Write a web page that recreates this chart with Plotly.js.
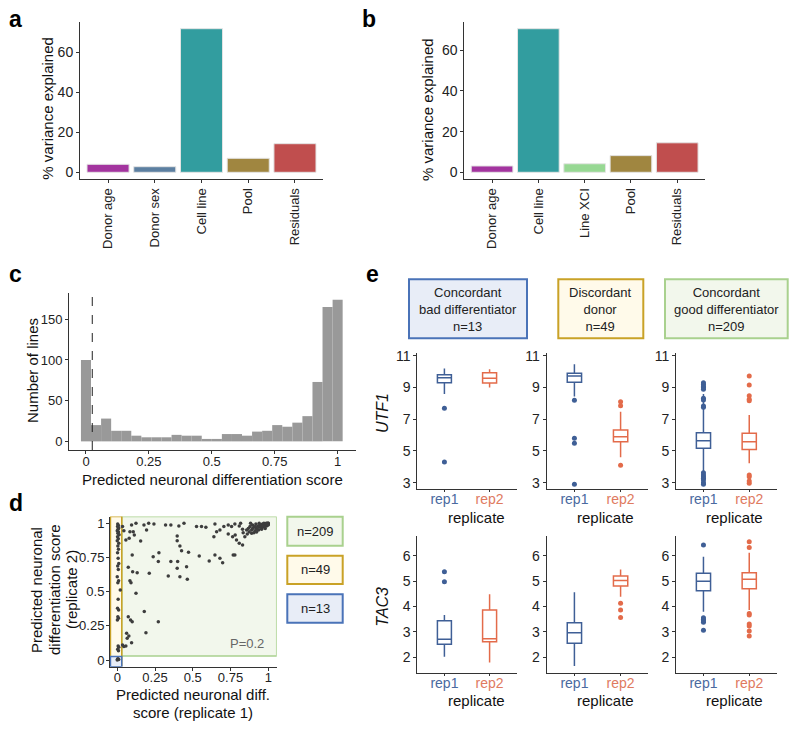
<!DOCTYPE html>
<html>
<head>
<meta charset="utf-8">
<script src="https://cdn.plot.ly/plotly-3.0.1.min.js"></script>
<style>body{margin:0;background:#fff} #fig{width:800px;height:730px}</style>
</head>
<body>
<div id="fig"></div>
<script>
// a / b: variance partition
const aFactors = ['Donor age', 'Donor sex', 'Cell line', 'Pool', 'Residuals'];
const aVariance = [4.0, 2.8, 71.8, 7.0, 14.3];
const bFactors = ['Donor age', 'Cell line', 'Line XCI', 'Pool', 'Residuals'];
const bVariance = [3.1, 70.6, 4.2, 8.2, 14.5];
const factorColor = {
  'Donor age': '#a3349f', 'Donor sex': '#5c7fa1', 'Cell line': '#329d9f',
  'Line XCI': '#97d893', 'Pool': '#a08640', 'Residuals': '#c04e4e'
};

// c: histogram of predicted scores
const histBins = [0, 0.04, 0.08, 0.12, 0.16, 0.2, 0.24, 0.28, 0.32, 0.36, 0.4, 0.44, 0.48,
  0.52, 0.56, 0.6, 0.64, 0.68, 0.72, 0.76, 0.8, 0.84, 0.88, 0.92, 0.96, 1.0];
const histCounts = [100, 20, 28, 13, 13, 7, 5, 5, 5, 8, 7, 7, 3, 3, 9, 9, 7, 12, 13, 20, 18, 23, 31, 73, 165, 174];
const scoreCutoff = 0.025;

// d: replicate 1 vs replicate 2
const dRep1 = [
  0.003, 0.008, 0.002, 0.010, 0.005, 0.000, 0.008, 0.004, 0.012, 0.002, 0.007, 0.000, 0.010, 0.004, 0.008, 0.002, 0.006,
  0.010, 0.003, 0.007, 0.000, 0.009, 0.004, 0.020, 0.006, 0.002, 0.009, 0.004, 0.008, 0.001, 0.006, 0.010, 0.003, 0.008,
  0.000, 0.005, 0.010, 0.002,
  0.035, 0.044, 0.057, 0.079, 0.084, 0.095, 0.106, 0.113, 0.124, 0.155, 0.177, 0.194, 0.208, 0.243, 0.320, 0.355,
  0.408, 0.442, 0.397, 0.397, 0.415, 0.426, 0.472, 0.525, 0.558, 0.587, 0.647, 0.658, 0.640, 0.680, 0.706, 0.735,
  0.757, 0.779, 0.735, 0.764, 0.781, 0.790, 0.808, 0.830, 0.768, 0.779, 0.808, 0.817, 0.830, 0.834, 0.845, 0.857,
  0.868, 0.879, 0.890, 0.896, 0.905, 0.912, 0.918, 0.923, 0.932, 0.936, 0.940, 0.945, 0.951, 0.956, 0.962, 0.967,
  0.971, 0.976, 0.980, 0.985, 0.989, 0.993, 0.998, 1.000, 1.000, 1.000, 0.890, 0.905, 0.923, 0.874, 0.861, 0.883,
  0.914, 0.958, 0.980, 0.945, 0.927, 0.896, 0.967, 0.989, 1.000, 0.987, 0.974, 0.962, 0.940,
  0.238, 0.272, 0.276, 0.355, 0.400, 0.397, 0.459, 0.338, 0.415, 0.464, 0.212, 0.132, 0.099, 0.073, 0.102, 0.543,
  0.609, 0.647, 0.680, 0.698,
  0.084, 0.091, 0.124, 0.073, 0.088, 0.099, 0.179, 0.272, 0.190, 0.062, 0.077, 0.066, 0.095, 0.057, 0.044, 0.035
];
const dRep2 = [
  0.995, 0.985, 0.976, 0.966, 0.956, 0.946, 0.937, 0.927, 0.917, 0.902, 0.888, 0.873, 0.854, 0.834, 0.810, 0.785, 0.744,
  0.707, 0.688, 0.663, 0.610, 0.580, 0.566, 0.512, 0.444, 0.378, 0.366, 0.317, 0.305, 0.293, 0.102, 0.093, 0.078, 0.068,
  0.000, 0.010, 0.003, 0.006,
  0.976, 0.946, 0.878, 0.890, 0.939, 0.988, 0.939, 0.915, 1.000, 0.871, 0.988, 0.951, 1.000, 0.995, 0.988, 0.988,
  0.980, 1.000, 0.907, 0.873, 0.834, 0.800, 0.788, 0.976, 0.976, 0.971, 0.995, 0.939, 0.902, 0.951, 0.976, 0.988,
  0.976, 0.995, 0.922, 0.902, 0.915, 0.878, 0.854, 0.841, 0.768, 0.768, 0.980, 1.000, 0.956, 0.932, 0.902, 0.951,
  0.963, 0.976, 0.951, 0.988, 0.971, 0.946, 0.995, 0.963, 0.980, 0.951, 1.000, 0.971, 0.988, 0.956, 0.995, 0.976,
  1.000, 0.983, 0.963, 0.995, 0.980, 1.000, 0.988, 1.000, 0.995, 1.000, 0.927, 0.932, 0.937, 0.939, 0.922, 1.000,
  0.976, 0.971, 0.988, 0.988, 0.956, 0.963, 0.990, 0.993, 0.990, 1.000, 0.973, 0.980, 0.976,
  0.756, 0.720, 0.785, 0.720, 0.720, 0.671, 0.683, 0.615, 0.610, 0.590, 0.634, 0.639, 0.768, 0.678, 0.646, 0.761,
  0.724, 0.768, 0.744, 0.712,
  0.580, 0.566, 0.488, 0.317, 0.293, 0.280, 0.354, 0.280, 0.200, 0.195, 0.176, 0.159, 0.127, 0.102, 0.098, 0.110
];
const groupLabels = ['n=209', 'n=49', 'n=13'];

// e: expression per replicate, [lowerfence, q1, median, q3, upperfence]
const replicates = ['rep1', 'rep2'];
const utf1BadRep1 = [8.6, 9.31, 9.62, 9.8, 10.2];
const utf1BadRep1Out = [7.7, 4.3];
const utf1BadRep2 = [9.0, 9.29, 9.59, 9.94, 10.15];
const utf1BadRep2Out = [];
const utf1DiscRep1 = [8.43, 9.33, 9.73, 9.9, 10.47];
const utf1DiscRep1Out = [8.2, 5.8, 5.49, 2.9];
const utf1DiscRep2 = [4.6, 5.59, 5.9, 6.32, 7.48];
const utf1DiscRep2Out = [8.1, 7.86, 4.1];
const utf1GoodRep1 = [3.7, 5.17, 5.65, 6.15, 8.6];
const utf1GoodRep1Out = [9.31, 9.2, 9.06, 9.0, 8.9, 8.32, 8.22, 7.84, 7.76, 3.63, 3.49, 3.38, 3.28, 3.17, 3.0, 2.9];
const utf1GoodRep2 = [4.22, 5.1, 5.59, 6.12, 7.27];
const utf1GoodRep2Out = [9.73, 9.16, 8.49, 8.26, 8.17, 3.49, 3.38, 3.1, 2.97];
const tac3BadRep1 = [2.02, 2.51, 2.71, 3.44, 3.67];
const tac3BadRep1Out = [5.37, 4.98];
const tac3BadRep2 = [1.8, 2.61, 2.73, 3.86, 4.48];
const tac3BadRep2Out = [];
const tac3DiscRep1 = [1.66, 2.55, 2.97, 3.36, 4.56];
const tac3DiscRep1Out = [];
const tac3DiscRep2 = [4.39, 4.81, 5.03, 5.2, 5.46];
const tac3DiscRep2Out = [4.13, 3.86, 3.57];
const tac3GoodRep1 = [3.8, 4.62, 5.0, 5.31, 5.96];
const tac3GoodRep1Out = [6.43, 3.56, 3.5, 3.44, 3.38, 3.07];
const tac3GoodRep2 = [3.86, 4.7, 5.08, 5.33, 6.12];
const tac3GoodRep2Out = [6.55, 6.33, 3.73, 3.67, 3.31, 3.23, 3.04, 2.84];

const W = 800, H = 730;
const px = x => x / W;
const py = y => 1 - y / H;
const FONT = 'Liberation Sans, Arial, sans-serif';
const REP_COL = { rep1: '#3f5f96', rep2: '#e36b4a' };

function axis(extra) {
  return Object.assign({
    showline: true, linecolor: '#333', linewidth: 1,
    ticks: 'outside', ticklen: 3, tickcolor: '#333', tickwidth: 1,
    showgrid: false, zeroline: false, fixedrange: true,
    tickfont: { size: 13, color: '#222' }
  }, extra);
}

// every free text is placed by its centre, in pixels of the 800x730 picture
function note(x, y, text, size, extra) {
  return Object.assign({
    xref: 'paper', yref: 'paper', x: px(x), y: py(y), text,
    xanchor: 'center', yanchor: 'middle', showarrow: false,
    font: { size, color: '#111' }
  }, extra || {});
}

const traces = [];
const layout = {
  width: W, height: H, margin: { l: 0, r: 0, t: 0, b: 0 },
  paper_bgcolor: '#fff', plot_bgcolor: 'rgba(0,0,0,0)',
  font: { family: FONT, color: '#222' },
  showlegend: false, shapes: [], annotations: []
};

// a, b
traces.push({
  type: 'bar', x: aFactors, y: aVariance, xaxis: 'x', yaxis: 'y', width: 0.9,
  marker: { color: aFactors.map(f => factorColor[f]), line: { color: '#e4e4e4', width: 1 } }
});
traces.push({
  type: 'bar', x: bFactors, y: bVariance, xaxis: 'x2', yaxis: 'y2', width: 0.9,
  marker: { color: bFactors.map(f => factorColor[f]), line: { color: '#e4e4e4', width: 1 } }
});
layout.xaxis = axis({ domain: [px(80), px(323)], anchor: 'y', type: 'category', range: [-0.6, 4.6], tickangle: -90 });
layout.yaxis = axis({ domain: [py(179), py(22)], anchor: 'x', range: [-3.35, 75.15], tickvals: [0, 20, 40, 60], tickfont: { size: 14, color: '#222' } });
layout.xaxis2 = axis({ domain: [px(464.3), px(705)], anchor: 'y2', type: 'category', range: [-0.6, 4.6], tickangle: -90 });
layout.yaxis2 = axis({ domain: [py(179), py(22)], anchor: 'x2', range: [-3.3, 73.9], tickvals: [0, 20, 40, 60], tickfont: { size: 14, color: '#222' } });

// c
traces.push({
  type: 'bar', x: histBins, y: histCounts, xaxis: 'x3', yaxis: 'y3', width: 0.04,
  marker: { color: '#999999', line: { width: 0 } }
});
const fracTicks = [0, 0.25, 0.5, 0.75, 1];
const fracText = ['0', '0.25', '0.5', '0.75', '1'];
layout.xaxis3 = axis({ domain: [px(69), px(356)], anchor: 'y3', range: [-0.0675, 1.073], tickvals: fracTicks, ticktext: fracText, ticklabelstandoff: -4 });
layout.yaxis3 = axis({ domain: [py(450), py(293)], anchor: 'x3', range: [-10.6, 182.3], tickvals: [0, 50, 100, 150] });
layout.shapes.push({
  type: 'line', xref: 'x3', yref: 'y3', x0: scoreCutoff, x1: scoreCutoff, y0: -10.6, y1: 182.3,
  line: { color: '#222', width: 1, dash: 'dash' }
});

// d
layout.xaxis4 = axis({ domain: [px(110), px(276.7)], anchor: 'y4', range: [-0.048, 1.056], tickvals: fracTicks, ticktext: fracText, ticklabelstandoff: -4 });
layout.yaxis4 = axis({ domain: [py(666.7), py(516.5)], anchor: 'x4', range: [-0.049, 1.05], tickvals: fracTicks, ticktext: fracText, ticklabelstandoff: -1 });
const GREEN = { fill: '#f2f7ec', line: '#a9d18e' };
const GOLD = { fill: '#fffaea', line: '#c9a227' };
const BLUE = { fill: '#e8edf7', line: '#4a73b8' };
const rect = (xref, yref, x0, x1, y0, y1, c, w) => ({
  type: 'rect', xref, yref, x0, x1, y0, y1, layer: 'below',
  fillcolor: c.fill, line: { color: c.line, width: w }
});
layout.shapes.push(rect('x4', 'y4', 0.03, 1.056, 0.03, 1.05, GREEN, 1.5));
layout.shapes.push(rect('x4', 'y4', -0.045, 0.03, -0.04, 1.05, GOLD, 1.5));
layout.shapes.push(rect('x4', 'y4', -0.045, 0.03, -0.049, 0.025, BLUE, 1.5));
traces.push({
  type: 'scatter', mode: 'markers', x: dRep1, y: dRep2, xaxis: 'x4', yaxis: 'y4',
  marker: { size: 3.5, color: '#3d3d3d' }, cliponaxis: false
});
[[GREEN, 516.7, 545.7], [GOLD, 555.7, 584], [BLUE, 594.3, 622.7]].forEach((b, i) => {
  layout.shapes.push({
    type: 'rect', xref: 'paper', yref: 'paper', x0: px(287.3), x1: px(342.7), y0: py(b[2]), y1: py(b[1]),
    fillcolor: b[0].fill, line: { color: b[0].line, width: 2 }
  });
  layout.annotations.push(note(315, (b[1] + b[2]) / 2, groupLabels[i], 13, { font: { size: 13, color: '#222' } }));
});
layout.annotations.push(note(246.7, 643.3, 'P=0.2', 13, { font: { size: 13, color: '#666' } }));

// e
const boxSets = [
  ['x5', 'y5', utf1BadRep1, utf1BadRep1Out, utf1BadRep2, utf1BadRep2Out],
  ['x6', 'y6', utf1DiscRep1, utf1DiscRep1Out, utf1DiscRep2, utf1DiscRep2Out],
  ['x7', 'y7', utf1GoodRep1, utf1GoodRep1Out, utf1GoodRep2, utf1GoodRep2Out],
  ['x8', 'y8', tac3BadRep1, tac3BadRep1Out, tac3BadRep2, tac3BadRep2Out],
  ['x9', 'y9', tac3DiscRep1, tac3DiscRep1Out, tac3DiscRep2, tac3DiscRep2Out],
  ['x10', 'y10', tac3GoodRep1, tac3GoodRep1Out, tac3GoodRep2, tac3GoodRep2Out]
];
function addBox(xa, ya, rep, s, out) {
  const col = REP_COL[rep];
  traces.push({
    type: 'box', x: [rep], lowerfence: [s[0]], q1: [s[1]], median: [s[2]], q3: [s[3]], upperfence: [s[4]],
    xaxis: xa, yaxis: ya, width: 0.31, whiskerwidth: 0, boxpoints: false,
    line: { color: col, width: 1.5 }, fillcolor: '#ffffff', hoverinfo: 'skip'
  });
  if (out.length) {
    traces.push({
      type: 'scatter', mode: 'markers', x: out.map(() => rep), y: out, xaxis: xa, yaxis: ya,
      marker: { size: 5, color: col }, hoverinfo: 'skip'
    });
  }
}
boxSets.forEach(b => {
  addBox(b[0], b[1], 'rep1', b[2], b[3]);
  addBox(b[0], b[1], 'rep2', b[4], b[5]);
});
const colX = [[417.3, 516.7], [546.7, 648.3], [676, 776.7]];
const repText = ['<span style="color:#4a6aa0">rep1</span>', '<span style="color:#e07a5f">rep2</span>'];
colX.forEach((c, i) => {
  const n1 = 5 + i, n2 = 8 + i;
  const repAxis = anchor => axis({ domain: [px(c[0]), px(c[1])], anchor, type: 'category',
    categoryorder: 'array', categoryarray: replicates, range: [-0.6, 1.6], ticklen: 2,
    tickvals: replicates, ticktext: repText, tickfont: { size: 14 }, ticklabelstandoff: -5 });
  layout['xaxis' + n1] = repAxis('y' + n1);
  layout['yaxis' + n1] = axis({ domain: [py(489.3), py(353.3)], anchor: 'x' + n1, range: [2.584, 11.16],
    tickvals: [3, 5, 7, 9, 11], tickfont: { size: 14, color: '#222' } });
  layout['xaxis' + n2] = repAxis('y' + n2);
  layout['yaxis' + n2] = axis({ domain: [py(673.3), py(536)], anchor: 'x' + n2, range: [1.37, 6.78],
    tickvals: [2, 3, 4, 5, 6], tickfont: { size: 14, color: '#222' } });
});
const titleX = [476.7, 605.7, 734.3];
titleX.forEach(x => {
  [517, 700].forEach(y => layout.annotations.push(note(x, y, 'replicate', 15)));
});
const headers = [
  ['Concordant<br>bad differentiator<br>n=13', 409, 527, BLUE],
  ['Discordant<br>donor<br>n=49', 558.3, 643.3, GOLD],
  ['Concordant<br>good differentiator<br>n=209', 665, 787.7, GREEN]
];
headers.forEach(h => {
  layout.shapes.push({
    type: 'rect', xref: 'paper', yref: 'paper', x0: px(h[1]), x1: px(h[2]), y0: py(338.3), y1: py(279.3),
    fillcolor: h[3].fill, line: { color: h[3].line, width: 2 }
  });
  layout.annotations.push(note((h[1] + h[2]) / 2, 309.5, h[0], 13, { font: { size: 13, color: '#222' } }));
});
layout.annotations.push(note(383, 413, '<i>UTF1</i>', 16, { textangle: -90 }));
layout.annotations.push(note(383, 606.7, '<i>TAC3</i>', 16, { textangle: -90 }));

// axis titles and panel letters
layout.annotations.push(note(46.7, 108, '% variance explained', 15, { textangle: -90 }));
layout.annotations.push(note(428, 110, '% variance explained', 15, { textangle: -90 }));
layout.annotations.push(note(32, 371, 'Number of lines', 15, { textangle: -90 }));
layout.annotations.push(note(212, 479, 'Predicted neuronal differentiation score', 15));
// d titles, one line each so the spacing follows the reference
[['Predicted neuronal', 36], ['differentiation score', 54], ['(replicate 2)', 71]].forEach(t =>
  layout.annotations.push(note(t[1], 590, t[0], 15, { textangle: -90 })));
[['Predicted neuronal diff.', 694], ['score (replicate 1)', 712]].forEach(t =>
  layout.annotations.push(note(193.3, t[1], t[0], 15)));
[['a', 15.5, 19], ['b', 369, 19], ['c', 15.5, 273.5], ['e', 372, 273.5], ['d', 16, 503]].forEach(l =>
  layout.annotations.push(note(l[1], l[2], '<b>' + l[0] + '</b>', 23, { font: { size: 23, color: '#000' } })));

Plotly.newPlot('fig', traces, layout, { staticPlot: true });
</script>
</body>
</html>
